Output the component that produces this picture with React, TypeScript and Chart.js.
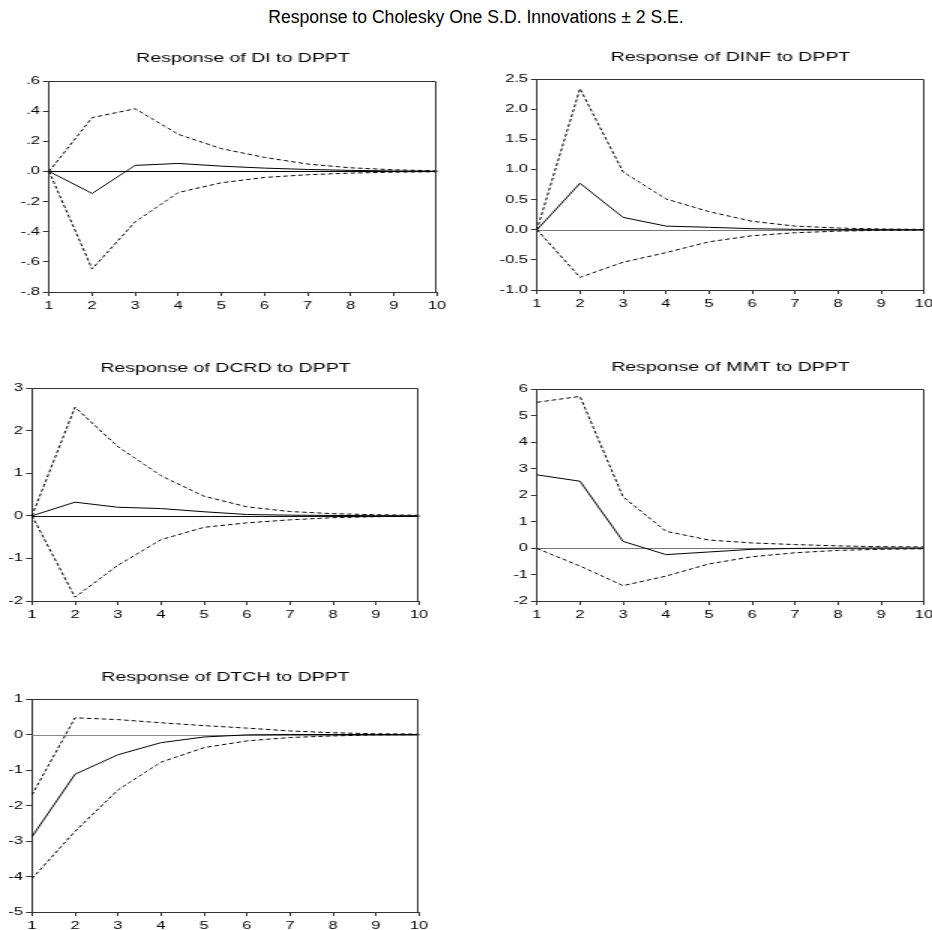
import React, { useEffect, useRef } from "react";
import { Chart, registerables } from "chart.js";

Chart.register(...registerables);

// ---- data ----
const PERIODS = ["1", "2", "3", "4", "5", "6", "7", "8", "9", "10"];

const MAIN_TITLE = "Response to Cholesky One S.D. Innovations \u00b1 2 S.E.";

const DI_TITLE = "Response of DI to DPPT";
const DI_RESP = [0, -0.146, 0.04, 0.053, 0.035, 0.022, 0.013, 0.007, 0.003, 0.001];
const DI_UPPER = [0, 0.357, 0.416, 0.246, 0.151, 0.093, 0.049, 0.024, 0.011, 0.004];
const DI_LOWER = [0, -0.647, -0.334, -0.14, -0.075, -0.04, -0.022, -0.011, -0.005, -0.002];

const DINF_TITLE = "Response of DINF to DPPT";
const DINF_RESP = [0, 0.77, 0.205, 0.06, 0.04, 0.017, 0.006, 0.002, 0.001, 0];
const DINF_UPPER = [0, 2.34, 0.96, 0.51, 0.3, 0.14, 0.06, 0.028, 0.012, 0.005];
const DINF_LOWER = [0, -0.79, -0.54, -0.38, -0.2, -0.1, -0.05, -0.024, -0.01, -0.004];

const DCRD_TITLE = "Response of DCRD to DPPT";
const DCRD_RESP = [0, 0.32, 0.2, 0.17, 0.095, 0.03, 0.015, 0.008, 0.003, 0.001];
const DCRD_UPPER = [0, 2.55, 1.62, 0.94, 0.46, 0.21, 0.1, 0.05, 0.025, 0.012];
const DCRD_LOWER = [0, -1.91, -1.16, -0.56, -0.27, -0.165, -0.095, -0.045, -0.02, -0.01];

const MMT_TITLE = "Response of MMT to DPPT";
const MMT_RESP = [2.76, 2.52, 0.25, -0.25, -0.15, -0.05, -0.015, -0.005, 0, 0];
const MMT_UPPER = [5.5, 5.72, 1.93, 0.63, 0.3, 0.19, 0.13, 0.08, 0.05, 0.04];
const MMT_LOWER = [-0.02, -0.68, -1.42, -1.06, -0.6, -0.33, -0.18, -0.09, -0.05, -0.03];

const DTCH_TITLE = "Response of DTCH to DPPT";
const DTCH_RESP = [-2.88, -1.12, -0.57, -0.23, -0.07, -0.01, 0, 0, 0, 0];
const DTCH_UPPER = [-1.7, 0.47, 0.42, 0.33, 0.25, 0.18, 0.1, 0.05, 0.02, 0.01];
const DTCH_LOWER = [-4.06, -2.73, -1.56, -0.78, -0.37, -0.18, -0.085, -0.04, -0.01, -0.005];

// y-axis ranges
const DI_Y = { min: -0.8, max: 0.6, step: 0.2 };
const DINF_Y = { min: -1, max: 2.5, step: 0.5 };
const DCRD_Y = { min: -2, max: 3, step: 1 };
const MMT_Y = { min: -2, max: 6, step: 1 };
const DTCH_Y = { min: -5, max: 1, step: 1 };

// ---- presentation ----
const SX = 1.5; // horizontal stretch of the figure
const FONT = '"Liberation Sans", Arial, sans-serif';

const fmtDot = (v: number) => {
  const r = Math.round(v * 10) / 10;
  return r.toFixed(1).replace(/^(-?)0\./, "$1.");
};
const fmtOne = (v: number) => (Math.round(v * 10) / 10).toFixed(1);
const fmtInt = (v: number) => String(Math.round(v));

type Layout = {
  left: number; top: number; width: number; height: number;
  yW: number; padR: number; tTop: number; tBottom: number; xH: number;
  zero: string;
};

const framePlugin = {
  id: "frame",
  beforeDatasetsDraw(chart: any, _a: any, opts: any) {
    const { ctx, chartArea: a, scales } = chart;
    const y0 = Math.round(scales.y.getPixelForValue(0)) + 0.5;
    ctx.save();
    ctx.strokeStyle = opts.zero || "#000";
    ctx.lineWidth = 1;
    ctx.beginPath();
    ctx.moveTo(a.left, y0);
    ctx.lineTo(a.right, y0);
    ctx.stroke();
    ctx.restore();
  },
  afterDraw(chart: any) {
    const { ctx, chartArea: a } = chart;
    ctx.save();
    ctx.strokeStyle = "#333";
    ctx.lineWidth = 1;
    ctx.beginPath();
    const t = Math.round(a.top) + 0.5;
    const r = Math.round(a.right) - 0.5;
    ctx.moveTo(a.left, t);
    ctx.lineTo(r, t);
    ctx.lineTo(r, a.bottom);
    ctx.stroke();
    ctx.restore();
  },
};

function Panel(props: {
  title: string; resp: number[]; upper: number[]; lower: number[];
  range: { min: number; max: number; step: number };
  fmt: (v: number) => string; lay: Layout;
}) {
  const ref = useRef<HTMLCanvasElement | null>(null);
  const { title, resp, upper, lower, range, fmt, lay } = props;
  useEffect(() => {
    if (!ref.current) return;
    const dash = [3, 2];
    const chart = new Chart(ref.current, {
      type: "line",
      data: {
        labels: PERIODS,
        datasets: [
          { label: "upper", data: upper, borderColor: "#000", borderWidth: 1, borderDash: dash, pointRadius: 0, tension: 0, fill: false },
          { label: "response", data: resp, borderColor: "#000", borderWidth: 1, pointRadius: 0, tension: 0, fill: false },
          { label: "lower", data: lower, borderColor: "#000", borderWidth: 1, borderDash: dash, pointRadius: 0, tension: 0, fill: false },
        ],
      },
      options: {
        animation: false,
        responsive: true,
        maintainAspectRatio: false,
        devicePixelRatio: 1,
        events: [],
        layout: { padding: { left: 0, right: lay.padR, top: 0, bottom: 0 } },
        plugins: {
          legend: { display: false },
          tooltip: { enabled: false },
          title: {
            display: true,
            text: title,
            fullSize: false,
            color: "#000",
            font: { family: FONT, size: 13, weight: "normal" },
            padding: { top: lay.tTop, bottom: lay.tBottom },
          },
          frame: { zero: lay.zero },
        } as any,
        scales: {
          x: {
            type: "category",
            offset: false,
            grid: { display: true, drawOnChartArea: false, drawTicks: true, tickLength: 4, color: "#333", offset: false },
            border: { display: true, color: "#333", width: 1 },
            ticks: { color: "#000", font: { family: FONT, size: 11 }, padding: 3, maxRotation: 0, autoSkip: false },
            afterFit: (s: any) => { s.height = lay.xH; s.paddingLeft = 0; s.paddingRight = 0; },
          },
          y: {
            type: "linear",
            min: range.min,
            max: range.max,
            grid: { display: true, drawOnChartArea: false, drawTicks: true, tickLength: 4, color: "#333" },
            border: { display: true, color: "#333", width: 1 },
            ticks: {
              stepSize: range.step,
              autoSkip: false,
              color: "#000",
              font: { family: FONT, size: 11 },
              padding: 2,
              callback: (v: any) => fmt(Number(v)),
            },
            afterFit: (s: any) => { s.width = lay.yW; },
          },
        },
      },
      plugins: [framePlugin as any],
    });
    return () => chart.destroy();
  }, []);
  return (
    <div
      style={{
        position: "absolute",
        left: lay.left,
        top: lay.top,
        width: lay.width,
        height: lay.height,
        transform: `scaleX(${SX})`,
        transformOrigin: "0 0",
      }}
    >
      <canvas ref={ref} />
    </div>
  );
}

const L_DI: Layout = { left: 0, top: 40, width: 306, height: 280, yW: 49 / SX, padR: 306 - 437 / SX, tTop: 10.2, tBottom: 15.2, xH: 28, zero: "#000" };
const L_DINF: Layout = { left: 470, top: 40, width: 308, height: 280, yW: 67 / SX, padR: 308 - 454 / SX, tTop: 9.2, tBottom: 14.2, xH: 30, zero: "#777" };
const L_DCRD: Layout = { left: 0, top: 350, width: 306, height: 280, yW: 32 / SX, padR: 306 - 419 / SX, tTop: 10.2, tBottom: 12.2, xH: 29, zero: "#111" };
const L_MMT: Layout = { left: 470, top: 350, width: 308, height: 280, yW: 67 / SX, padR: 308 - 454 / SX, tTop: 9.9, tBottom: 13.5, xH: 29, zero: "#777" };
const L_DTCH: Layout = { left: 0, top: 660, width: 306, height: 270, yW: 32 / SX, padR: 306 - 419 / SX, tTop: 9.9, tBottom: 13.5, xH: 18, zero: "#888" };

export default function App() {
  return (
    <div
      style={{
        position: "absolute",
        left: 0,
        top: 0,
        width: 932,
        height: 930,
        overflow: "hidden",
        background: "#fff",
      }}
    >
      <div
        style={{
          position: "absolute",
          left: 0,
          top: 7,
          width: 952,
          textAlign: "center",
          fontFamily: FONT,
          fontSize: 17.6,
          lineHeight: "20px",
          color: "#000",
          whiteSpace: "nowrap",
        }}
      >
        {MAIN_TITLE}
      </div>
      <Panel title={DI_TITLE} resp={DI_RESP} upper={DI_UPPER} lower={DI_LOWER} range={DI_Y} fmt={fmtDot} lay={L_DI} />
      <Panel title={DINF_TITLE} resp={DINF_RESP} upper={DINF_UPPER} lower={DINF_LOWER} range={DINF_Y} fmt={fmtOne} lay={L_DINF} />
      <Panel title={DCRD_TITLE} resp={DCRD_RESP} upper={DCRD_UPPER} lower={DCRD_LOWER} range={DCRD_Y} fmt={fmtInt} lay={L_DCRD} />
      <Panel title={MMT_TITLE} resp={MMT_RESP} upper={MMT_UPPER} lower={MMT_LOWER} range={MMT_Y} fmt={fmtInt} lay={L_MMT} />
      <Panel title={DTCH_TITLE} resp={DTCH_RESP} upper={DTCH_UPPER} lower={DTCH_LOWER} range={DTCH_Y} fmt={fmtInt} lay={L_DTCH} />
    </div>
  );
}
